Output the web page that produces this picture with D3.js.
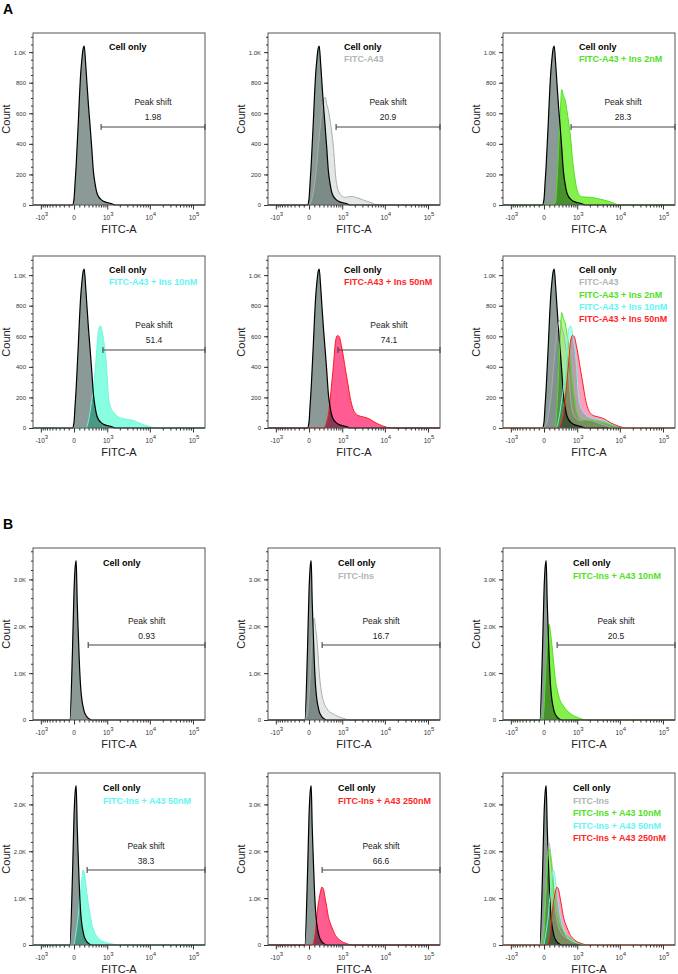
<!DOCTYPE html>
<html><head><meta charset="utf-8">
<script src="https://cdn.jsdelivr.net/npm/d3@7"></script>
<style>
body{margin:0;background:#fff;}
svg text{font-family:"Liberation Sans",Arial,Helvetica,sans-serif;}
</style></head><body>
<svg id="chart" width="678" height="974"></svg>
<script>
// ---------------- DATA ----------------
// FITC-A values at which histogram counts were read
const fitcBins = [-600,-300,-150,-80,-30,0,20,40,60,80,100,125,150,175,200,230,260,300,340,380,430,480,540,600,680,760,850,950,1070,1200,1350,1550,1800,2100,2500,3000,3600,4300,5200,6300,7600,9200,11000,14000,18000,25000];

// Section A counts
const cellOnlyA = [0,0,0,0,0,40,150,260,400,540,690,850,950,1020,1040,930,800,640,510,380,220,140,80,55,38,28,22,17,14,11,6,0,0,0,0,0,0,0,0,0,0,0,0,0,0,0];
const fitcA43   = [0,0,0,0,0,0,5,25,45,80,120,185,260,360,445,540,620,690,705,660,620,555,470,370,190,110,80,62,53,50,52,56,56,50,44,35,27,20,11,2,0,0,0,0,0,0];
const a43Ins2   = [0,0,0,0,0,0,0,0,0,0,0,0,0,0,5,20,130,360,580,755,715,688,620,545,440,300,200,120,75,58,54,52,51,50,47,42,37,32,26,18,10,0,0,0,0,0];
const a43Ins10  = [0,0,0,0,0,0,0,0,0,0,0,0,0,0,0,0,10,50,110,180,260,370,520,640,668,620,540,420,210,140,110,90,75,66,60,56,53,48,37,27,19,12,6,0,0,0];
const a43Ins50  = [0,0,0,0,0,0,0,0,0,0,0,0,0,0,0,0,0,0,10,40,90,180,300,420,570,605,595,540,465,380,300,200,128,95,80,74,68,60,46,32,22,12,5,0,0,0];

// Section B counts
const cellOnlyB = [0,0,0,0,1450,2770,3250,3400,2500,1850,1250,720,440,290,180,110,65,30,10,0,0,0,0,0,0,0,0,0,0,0,0,0,0,0,0,0,0,0,0,0,0,0,0,0,0,0];
const fitcIns   = [0,0,0,0,150,500,900,1350,1800,2100,2170,1950,1750,1400,1010,730,540,390,300,250,200,165,145,125,100,80,65,50,35,20,8,0,0,0,0,0,0,0,0,0,0,0,0,0,0,0];
const insA43_10 = [0,0,0,0,0,250,750,1250,1650,1950,2040,1850,1620,1350,1100,820,680,520,410,355,300,250,205,170,135,105,85,70,50,30,15,0,0,0,0,0,0,0,0,0,0,0,0,0,0,0];
const insA43_50 = [0,0,0,0,0,20,150,280,450,620,880,1150,1400,1600,1560,1350,1100,840,640,465,340,245,185,140,100,80,64,50,40,32,20,8,0,0,0,0,0,0,0,0,0,0,0,0,0,0,0];
const insA43_250= [0,0,0,0,0,0,0,0,0,30,120,320,620,850,1000,1150,1235,1180,1000,820,600,480,380,290,200,150,112,80,55,40,22,8,0,0,0,0,0,0,0,0,0,0,0,0,0,0,0];

const legendA = ["Cell only","FITC-A43","FITC-A43 + Ins 2nM","FITC-A43 + Ins 10nM","FITC-A43 + Ins 50nM"];
const legendB = ["Cell only","FITC-Ins","FITC-Ins + A43 10nM","FITC-Ins + A43 50nM","FITC-Ins + A43 250nM"];
const peakShiftA = ["1.98","20.9","28.3","51.4","74.1"];
const peakShiftB = ["0.93","16.7","20.5","38.3","66.6"];
const gateStartA = [700,700,700,780,780];
const gateStartB = [290,265,265,265,265];

const yTicksA = [0,200,400,600,800,1000];
const yTickLabelsA = ["0","200","400","600","800","1.0K"];
const yTicksB = [0,1000,2000,3000];
const yTickLabelsB = ["0","1.0K","2.0K","3.0K"];
const xMajorTicks = [-1000,0,1000,10000,100000];
const xMajorBase = ["-10","0","10","10","10"];
const xMajorExp = ["3","","3","4","5"];
const xMinorTicks = [-900,-800,-700,-600,-500,-400,-300,-200,-100,100,200,300,400,500,600,700,800,900,
  2000,3000,4000,5000,6000,7000,8000,9000,20000,30000,40000,50000,60000,70000,80000,90000];

// ---------------- STYLE / LAYOUT ----------------
const fills   = ["#8b9a96","#e3e7e6","#84f04c","#88fde0","#ff5c92"];
const strokes = ["#000000","#a4afac","#4ee21c","#70f5e6","#ff1a1a"];
const txtCols = ["#000000","#aeb7b4","#4ee21c","#5ff6f2","#ff2626"];

const colLeft = [33, 268, 503];
const rowTop = {A:[33,256], B:[548,773]};
const PW = 172, PH = 172;
const T = v => Math.asinh(v/350);
const xLo = -1545, xHi = 190000;

const sections = {
  A: {series:[cellOnlyA,fitcA43,a43Ins2,a43Ins10,a43Ins50], yMax:1125, yTicks:yTicksA, yLabels:yTickLabelsA, yMinorStep:50,
      legend:legendA, shifts:peakShiftA, gates:gateStartA, legX:76, legY:17, legDy:12.3, gY:94, psY:72, pvY:87},
  B: {series:[cellOnlyB,fitcIns,insA43_10,insA43_50,insA43_250], yMax:3670, yTicks:yTicksB, yLabels:yTickLabelsB, yMinorStep:200,
      legend:legendB, shifts:peakShiftB, gates:gateStartB, legX:70, legY:18, legDy:12.5, gY:97, psY:76, pvY:91}
};

const svg = d3.select("#chart");
svg.append("text").attr("x",3).attr("y",14).attr("font-size",14).attr("font-weight","bold").text("A");
svg.append("text").attr("x",3).attr("y",529).attr("font-size",14).attr("font-weight","bold").text("B");

const xs = d3.scaleLinear().domain([T(xLo),T(xHi)]).range([0,PW]);
const x = v => xs(T(v));
let clipId = 0;

function drawPanel(secKey, idx){
  const S = sections[secKey];
  const row = Math.floor(idx/3), col = idx%3;
  const g = svg.append("g").attr("transform",`translate(${colLeft[col]},${rowTop[secKey][row]})`);
  const y = d3.scaleLinear().domain([0,S.yMax]).range([PH,0]);

  const cid = "clip"+(clipId++);
  g.append("clipPath").attr("id",cid).append("rect").attr("x",0).attr("y",0).attr("width",PW).attr("height",PH+1);
  const plot = g.append("g").attr("clip-path",`url(#${cid})`).style("isolation","isolate");

  const pts = vals => [[xLo,0]].concat(fitcBins.map((b,i)=>[b,vals[i]])).concat([[xHi,0]]);
  const area = d3.area().x(d=>x(d[0])).y0(y(0)).y1(d=>y(d[1])).curve(d3.curveMonotoneX);
  const line = d3.line().x(d=>x(d[0])).y(d=>y(d[1])).curve(d3.curveMonotoneX);

  let shown;
  if (idx===0) shown=[0];
  else if (idx<5) shown=[0,idx];
  else shown=[0,1,2,3,4];
  const overlay = idx===5;

  shown.forEach(si=>{
    const p = plot.append("path").datum(pts(S.series[si])).attr("d",area).attr("fill",fills[si]);
    if (si>0){ p.style("mix-blend-mode","multiply"); if (overlay) p.attr("fill-opacity",0.6); }
  });
  const lineOrder = overlay ? [0,1,2,3,4] : shown.slice().reverse();
  lineOrder.forEach(si=>{
    plot.append("path").datum(pts(S.series[si])).attr("d",line).attr("fill","none")
      .attr("stroke",strokes[si]).attr("stroke-width", si===0?1.2:1);
  });

  // frame
  g.append("rect").attr("x",0).attr("y",0).attr("width",PW).attr("height",PH)
    .attr("fill","none").attr("stroke","#555").attr("stroke-width",1);

  // y axis
  const yMinor = d3.range(0,S.yMax,S.yMinorStep);
  g.append("g").call(d3.axisLeft(y).tickValues(yMinor).tickSize(2).tickFormat(""))
    .call(a=>a.select(".domain").remove()).selectAll("line").attr("stroke","#333");
  const ya = g.append("g").call(d3.axisLeft(y).tickValues(S.yTicks).tickSize(4).tickPadding(3)
      .tickFormat((d,i)=>S.yLabels[i]));
  ya.select(".domain").remove();
  ya.selectAll("line").attr("stroke","#333");
  ya.selectAll("text").attr("font-size",6).attr("fill","#333").style("font-family","Liberation Sans, Arial, sans-serif");

  // x axis
  const xa0 = g.append("g").attr("transform",`translate(0,${PH})`)
    .call(d3.axisBottom(xs).tickValues(xMinorTicks.map(T)).tickSize(2.5).tickFormat(""));
  xa0.select(".domain").remove(); xa0.selectAll("line").attr("stroke","#333");
  const xa = g.append("g").attr("transform",`translate(0,${PH})`)
    .call(d3.axisBottom(xs).tickValues(xMajorTicks.map(T)).tickSize(4.5).tickFormat(""));
  xa.select(".domain").remove(); xa.selectAll("line").attr("stroke","#333");
  xMajorTicks.forEach((v,i)=>{
    const t = g.append("text").attr("x",x(v)+(xMajorExp[i]?1:0)).attr("y",PH+15).attr("text-anchor","middle")
      .attr("font-size",6.5).attr("fill","#333");
    t.append("tspan").text(xMajorBase[i]);
    if (xMajorExp[i]) t.append("tspan").attr("dy",-4.5).attr("font-size",6).text(xMajorExp[i]);
  });
  g.append("text").attr("x",PW/2).attr("y",PH+28).attr("text-anchor","middle").attr("font-size",11)
    .attr("fill","#222").text("FITC-A");
  g.append("text").attr("transform",`translate(-23,${PH/2}) rotate(-90)`).attr("text-anchor","middle")
    .attr("font-size",11).attr("fill","#222").text("Count");

  // legend
  shown.forEach((si,k)=>{
    g.append("text").attr("x",S.legX).attr("y",S.legY+k*S.legDy).attr("font-size",9).attr("font-weight","bold")
      .attr("fill",txtCols[si]).text(S.legend[si]);
  });

  // peak shift gate
  if (!overlay){
    const gx = x(S.gates[idx]);
    const gg = g.append("g").attr("stroke","#444").attr("stroke-width",1.1);
    gg.append("line").attr("x1",gx).attr("x2",PW).attr("y1",S.gY).attr("y2",S.gY);
    gg.append("line").attr("x1",gx).attr("x2",gx).attr("y1",S.gY-3).attr("y2",S.gY+3);
    gg.append("line").attr("x1",PW).attr("x2",PW).attr("y1",S.gY-3).attr("y2",S.gY+3);
    const cx = (gx+PW)/2;
    g.append("text").attr("x",cx).attr("y",S.psY).attr("text-anchor","middle").attr("font-size",8.5)
      .attr("fill","#222").text("Peak shift");
    g.append("text").attr("x",cx).attr("y",S.pvY).attr("text-anchor","middle").attr("font-size",8.5)
      .attr("fill","#222").text(S.shifts[idx]);
  }
}

for (let i=0;i<6;i++) drawPanel("A",i);
for (let i=0;i<6;i++) drawPanel("B",i);
</script>
</body></html>
